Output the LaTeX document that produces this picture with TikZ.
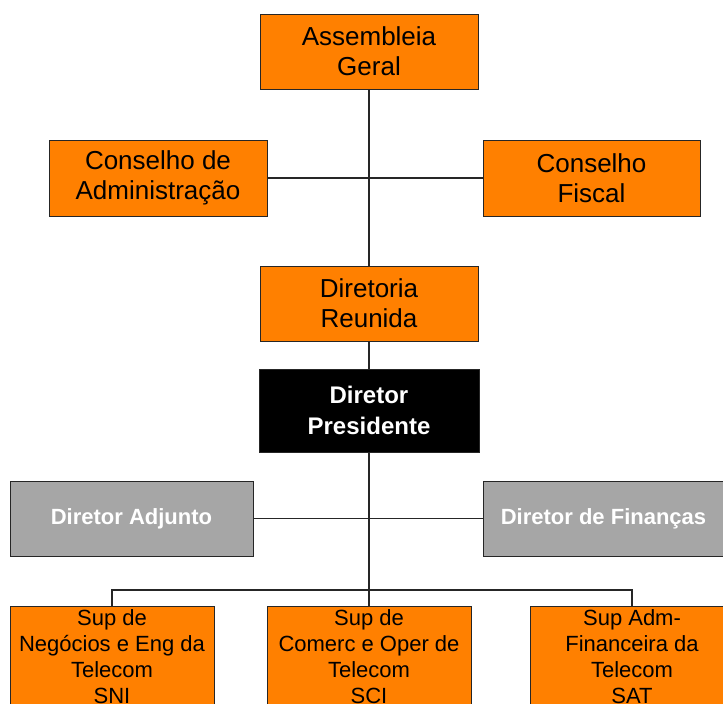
\documentclass[tikz,border=0pt]{standalone}
\usepackage{fontspec}
\setmainfont{Liberation Sans}
\definecolor{orgfill}{HTML}{FF8000}
\definecolor{grayfill}{HTML}{A6A6A6}
\definecolor{linecol}{HTML}{262626}
\begin{document}
\begin{tikzpicture}[x=1pt,y=-1pt,
  box/.style={draw=linecol,line width=0.9pt,rectangle,inner sep=0pt,align=center},
  orgbox/.style={box,fill=orgfill,text=black,font=\fontsize{26}{30}\selectfont},
  blkbox/.style={box,fill=black,text=white,font=\fontsize{24}{31}\selectfont\bfseries},
  graybox/.style={box,fill=grayfill,text=white,font=\fontsize{22}{25}\selectfont\bfseries},
  supbox/.style={box,fill=orgfill,text=black,font=\fontsize{22}{26}\selectfont,minimum width=204pt,minimum height=102pt},
  conn/.style={draw=linecol,line width=1.5pt}]
\useasboundingbox (0,0) rectangle (723,704);
\node[orgbox,minimum width=218pt,minimum height=75pt] (ag) at (369,51.5) {Assembleia\\Geral};
\node[orgbox,minimum width=218pt,minimum height=76pt] (ca) at (158,178) {Conselho de\\Administração};
\node[orgbox,minimum width=217pt,minimum height=76pt] (cf) at (591.5,178) {Conselho\\Fiscal};
\node[orgbox,minimum width=218pt,minimum height=75pt] (dr) at (369,303.5) {Diretoria\\Reunida};
\node[blkbox,minimum width=220pt,minimum height=83pt] (dp) at (369,410.5) {Diretor\\Presidente};
\node[graybox,minimum width=243pt,minimum height=75pt] (da) at (131.5,518.5) {Diretor Adjunto};
\node[graybox,minimum width=241pt,minimum height=75pt] (df) at (603.5,518.5) {Diretor de Finanças};
\node[supbox] (sni) at (112,657) {Sup de\\Negócios e Eng da\\Telecom\\SNI};
\node[supbox] (sci) at (369,657) {Sup de\\Comerc e Oper de\\Telecom\\SCI};
\node[supbox] (sat) at (632,657) {Sup Adm-\\Financeira da\\Telecom\\SAT};
\coordinate (busl) at (112,590);
\coordinate (busr) at (632,590);
\path[conn] (ag.south) -- (dr.north);
\path[conn] (ca.east) -- (cf.west);
\path[conn] (dr.south) -- (dp.north);
\path[conn] (dp.south) -- (sci.north);
\path[conn] (da.east) -- (df.west);
\path[conn] (sni.north) -- (busl) -- (busr) -- (sat.north);
\end{tikzpicture}
\end{document}
